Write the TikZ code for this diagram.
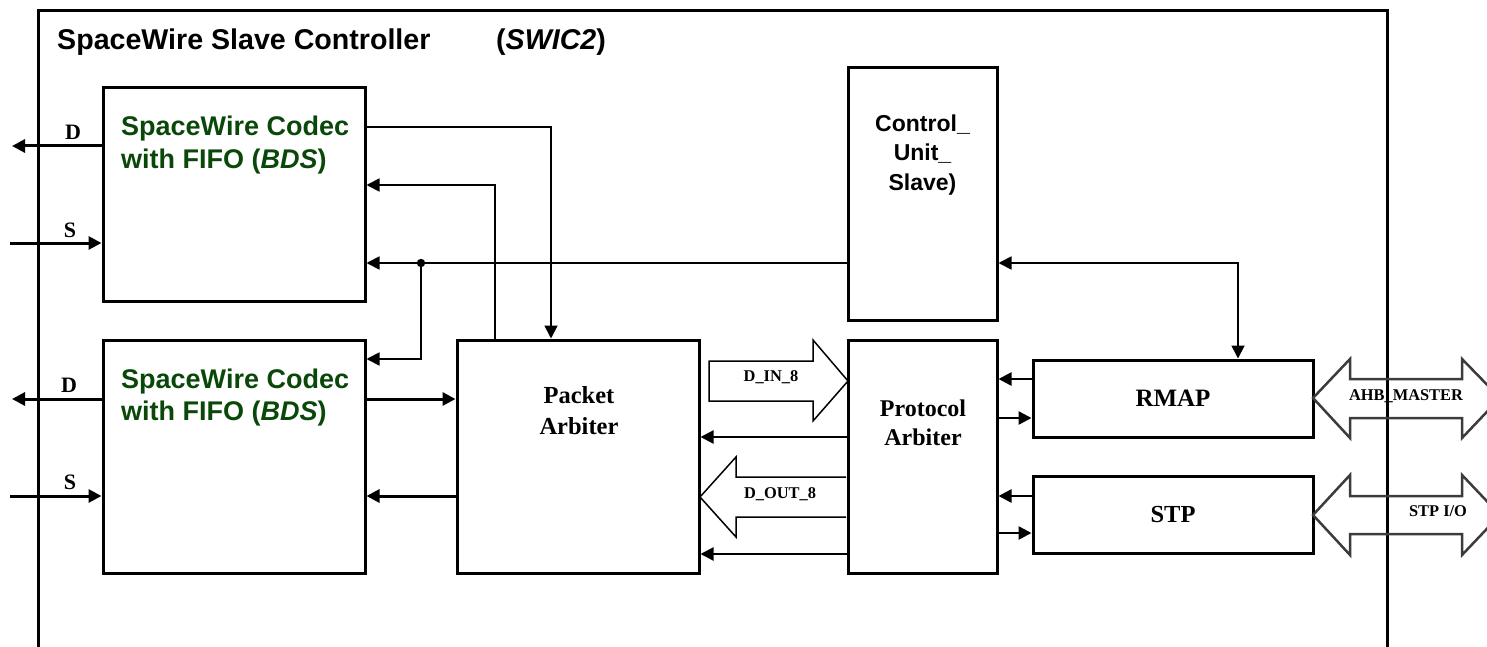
\documentclass[tikz,border=0pt]{standalone}
\usepackage{fontspec}
\setmainfont{Liberation Serif}
\newfontfamily\arialf{Liberation Sans}
\usetikzlibrary{arrows.meta}
\definecolor{codecgreen}{RGB}{10,72,10}
\definecolor{busgray}{RGB}{60,60,60}
\begin{document}
\begin{tikzpicture}[x=1pt,y=-1pt,
  box/.style={draw, line width=3pt, inner sep=0pt},
  txt/.style={inner sep=0pt, anchor=base},
  tip/.style={-{Triangle[length=13pt,width=13pt]}},
  thickarr/.style={line width=3pt, tip},
  medarr/.style={line width=2.2pt, tip},
  conn/.style={line width=1.8pt},
  blockarr/.style={line width=1.5pt, line join=miter},
  busarr/.style={line width=2.5pt, draw=busgray, line join=miter},
  sansbig/.style={font=\arialf\bfseries\fontsize{28.6}{34}\selectfont},
  codectxt/.style={inner sep=0pt, anchor=base west, text=codecgreen, font=\arialf\bfseries\fontsize{27}{32}\selectfont},
  ctrltxt/.style={txt, font=\arialf\bfseries\fontsize{23}{28}\selectfont},
  serifmid/.style={font=\bfseries\fontsize{24.5}{30}\selectfont},
  sig/.style={txt, font=\bfseries\fontsize{22}{26}\selectfont},
  buslbl/.style={txt, font=\bfseries\fontsize{16.4}{20}\selectfont}
]
\useasboundingbox (0,0) rectangle (1487,647);
\clip (0,0) rectangle (1487,647);

% outer frame
\draw[line width=3pt] (38,700) -- (38,11) -- (1387,11) -- (1387,700);
\node[inner sep=0pt, anchor=base west, sansbig] (title) at (57,50) {SpaceWire Slave Controller};
\node[inner sep=0pt, anchor=base west, sansbig] (title2) at (496,50) {(\textit{SWIC2})};

% boxes
\node[box, minimum width=262pt, minimum height=213pt] (codec1) at (234,194.5) {};
\node[box, minimum width=262pt, minimum height=233pt] (codec2) at (234,456.5) {};
\node[box, minimum width=242pt, minimum height=233pt] (pa) at (578,456.5) {};
\node[box, minimum width=149pt, minimum height=233pt] (prot) at (922.5,456.5) {};
\node[box, minimum width=149pt, minimum height=252pt] (ctrl) at (922.5,194) {};
\node[box, minimum width=280pt, minimum height=77pt, font=\bfseries\fontsize{25}{30}\selectfont] (rmap) at (1173,398.5) {RMAP};
\node[box, minimum width=280pt, minimum height=77pt, serifmid] (stp) at (1173,514.5) {STP};

% box texts
\node[codectxt] (c1a) at (121,136) {SpaceWire Codec};
\node[codectxt] (c1b) at (121,168) {with FIFO (\textit{BDS})};
\node[codectxt] (c2a) at (121,388) {SpaceWire Codec};
\node[codectxt] (c2b) at (121,420) {with FIFO (\textit{BDS})};
\node[ctrltxt] (ct1) at (922.5,132) {Control\_};
\node[ctrltxt] (ct2) at (922.5,161) {Unit\_};
\node[ctrltxt] (ct3) at (922.5,190) {Slave)};
\node[txt, serifmid] (pa1) at (579,403) {Packet};
\node[txt, serifmid] (pa2) at (579,434) {Arbiter};
\node[txt, font=\bfseries\fontsize{24}{30}\selectfont] (pr1) at (923,416) {Protocol};
\node[txt, font=\bfseries\fontsize{24}{30}\selectfont] (pr2) at (923,445) {Arbiter};

% external D / S signals
\coordinate (d1) at (12,146);
\coordinate (s1) at (10,243);
\coordinate (d2) at (12,399);
\coordinate (s2) at (10,496);
\draw[thickarr] (codec1.west |- d1) -- (d1);
\draw[thickarr] (s1) -- (codec1.west |- s1);
\draw[thickarr] (codec2.west |- d2) -- (d2);
\draw[thickarr] (s2) -- (codec2.west |- s2);
\node[sig] (ld1) at (73,140) {D};
\node[sig] (ls1) at (70,237) {S};
\node[sig] (ld2) at (69,392) {D};
\node[sig] (ls2) at (70,489) {S};

% upper connectors
\coordinate (j) at (421,263);
\draw[conn, tip] (codec1.east |- 0,127) -| (551,0 |- pa.north);
\draw[conn, tip] (495,0 |- pa.north) |- (codec1.east |- 0,185);
\draw[conn, tip] (ctrl.west |- j) -- (codec1.east |- j);
\fill (j) circle (4.2pt);
\draw[conn, tip] (j) |- (codec2.east |- 0,359);
\draw[conn, {Triangle[length=13pt,width=13pt]}-{Triangle[length=13pt,width=13pt]}] (ctrl.east |- j) -| (1238,0 |- rmap.north);

% codec2 <-> packet arbiter
\draw[thickarr] (codec2.east |- 0,399) -- (pa.west |- 0,399);
\draw[thickarr] (pa.west |- 0,496) -- (codec2.east |- 0,496);

% protocol -> packet
\draw[medarr] (prot.west |- 0,437) -- (pa.east |- 0,437);
\draw[medarr] (prot.west |- 0,554) -- (pa.east |- 0,554);

% rmap / stp <-> protocol
\draw[medarr, line width=2.6pt] (rmap.west |- 0,379) -- (prot.east |- 0,379);
\draw[medarr, line width=2.6pt] (prot.east |- 0,418) -- (rmap.west |- 0,418);
\draw[medarr, line width=2.6pt] (stp.west |- 0,496) -- (prot.east |- 0,496);
\draw[medarr, line width=2.6pt] (prot.east |- 0,533) -- (stp.west |- 0,533);

% block arrows
\draw[blockarr] (709,361) -- (813,361) -- (813,340) -- (848,381) -- (813,421) -- (813,401) -- (709,401) -- cycle;
\node[buslbl] (lin) at (771,381) {D\_IN\_8};
\draw[blockarr] (846,477) -- (736,477) -- (736,457) -- (700,497) -- (736,537) -- (736,517) -- (846,517);
\node[buslbl] (lout) at (780,498) {D\_OUT\_8};

\draw[busarr] (1313,398) -- (1350,359) -- (1350,379) -- (1462,379) -- (1462,359) -- (1500,398) -- (1462,438) -- (1462,418) -- (1350,418) -- (1350,438) -- cycle;
\node[buslbl] (lahb) at (1406,400) {AHB\_MASTER};
\draw[busarr] (1313,515) -- (1350,475) -- (1350,496) -- (1462,496) -- (1462,475) -- (1500,515) -- (1462,555) -- (1462,534) -- (1350,534) -- (1350,555) -- cycle;
\node[buslbl] (lstp) at (1438,516) {STP I/O};
\end{tikzpicture}
\end{document}
